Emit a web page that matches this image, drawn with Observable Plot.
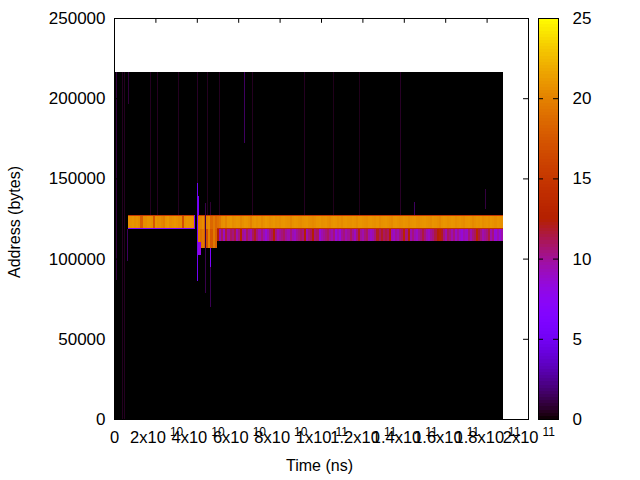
<!DOCTYPE html>
<html>
<head>
<meta charset="utf-8">
<style>
html,body{margin:0;padding:0;background:#fff}
#wrap{position:relative;width:640px;height:480px;overflow:hidden}
#wrap svg{position:absolute;left:0;top:0}
</style>
<script src="https://cdn.jsdelivr.net/npm/d3@7"></script>
<script src="https://cdn.jsdelivr.net/npm/@observablehq/plot@0.6"></script>
</head>
<body>
<div id="wrap"></div>
<script>
// --- Data (time in ns, address in bytes, value = colour level) ---
const GIGA = 1e9;
const dataEnd = 187.9e9, dataTop = 216300;

const xTickValues = [0,2e10,4e10,6e10,8e10,1e11,1.2e11,1.4e11,1.6e11,1.8e11,2e11];
const xTickBases  = ["0","2x10","4x10","6x10","8x10","1x10","1.2x10","1.4x10","1.6x10","1.8x10","2x10"];
const xTickExps   = ["","10","10","10","10","11","11","11","11","11","11"];
const yTickValues = [0,50000,100000,150000,200000,250000];
const cbTickValues = [0,5,10,15,20,25];

// thin vertical streaks: time (10^9 ns), low address, high address, value
const streakTimes = [1.0,4.1,4.8,6.8,6.5,17.6,20.8,30.9,40.1,40.1,40.5,44.7,44,46.6,46.6,46.6,50,50,50.7,63,66.9,91.9,105.8,118.4,138.3,144.9,179.2];
const streakLows  = [86650,0,0,196400,98500,127180,127180,127180,147100,86000,127180,127180,78500,127180,94800,69800,204500,127180,127180,172100,127180,127180,127180,127180,127180,127180,130900];
const streakHighs = [216300,216300,216300,216300,118450,216300,216300,216300,216300,147100,139000,216300,134700,135300,106600,94800,216300,204500,216300,216300,216300,216300,216300,216300,216300,135300,143400];
const streakVals  = [1,0.5,0.5,0.9,1.5,0.5,0.5,0.5,0.6,5,5.5,0.5,1.2,0.8,6,1.3,3,0.5,0.5,1.5,0.5,0.5,0.4,0.4,0.6,1.5,1];

// early band (columns of 10^9 ns from 6.8e9)
const earlyBand = [20.5,20.7,20.9,20.6,20.8,20.5,18,20.5,20.5,20.8,20.8,20.6,17.5,20.8,20.5,20.6,20.2,19.8,20.8,21,20.5,20.7,20.9,20.7,20.4,20.6,17,20.6,20.8,20.7,20.7,20.5];

// transition region (columns from 40.6e9)
const transUpper = [19.5,20,20.5,18,20,20.5,18.5,19.5,18.5];
const transLower = [19.5,19,19.5,18,17,20,17.5,19.5,18];

// main upper band (columns from 49.8e9)
const upperBand = [
19,19.5,20.5,20.7,20,20.8,21,20.5,20.7,20.9,20.8,20.2,20.6,20.9,20.8,20.5,19.8,20.7,20.9,20.6,20.8,20.3,20.7,21,20.8,20.5,20.7,20.9,20.6,20.7,20.5,20.8,20.9,20.7,20.6,20.2,20.7,20.9,20.8,20.6,20.4,20.7,20.8,20.9,20.6,20.5,
20.3,20.5,20.8,20.9,20.6,20.7,20.8,20.5,20.3,20.7,20.9,20.8,20.5,20.7,20.4,20.8,20.9,20.7,20.6,20.8,20.7,20.4,20.8,20.9,20.7,20.6,20.5,20.8,20.9,20.7,20.6,20.8,20.4,20.7,20.8,20.9,20.7,20.5,20.3,20.8,20.9,20.7,20.5,20.6,20.8,20.7,
20.4,20.7,20.8,20.9,20.6,20.5,20.7,20.8,20.9,20.7,20.6,20.4,20.8,20.7,20.5,20.2,20.7,20.9,20.8,20.6,20.7,20.9,20.8,20.5,20.7,20.8,20.6,20.4,20.8,20.9,20.7,20.3,20.6,20.8,20.7,20.9,20.5,20.7,20.8,20.6,20.9,20.7,20.5,20.8,20.7,20.6];

// main lower band (columns from 49.8e9)
const lowerBand = [
12.5,9.5,11,9,11.5,10,11,10.5,11.5,9.5,10.5,12.5,10,9.5,11,10,9.5,11,12,10.5,9.5,10.5,9.5,8.5,9.5,10.5,11,12.5,10.5,9.5,10,10.5,11,10,9.5,10.5,9.5,9,10,10.5,11,10.5,12.5,9.5,10.5,11,
12.5,10.5,11,8.5,9.5,10,10.5,11,10,9.5,10.5,8.5,9.5,8.5,10,10.5,9.5,10,11,10,9,10.5,12,10,9.5,10.5,11,9.5,9,9.5,10.5,12,11,12,11,11.5,11,12.5,9.5,9,10,9.5,10.5,11,13,10.5,
12.5,9.5,10.5,9.5,9,10,10.5,11.5,10.5,9.5,9,10,10.5,11.5,12.5,13,12,10.5,9.5,11,10.5,9.5,10.5,9,10,9,8.5,9.5,9,10.5,9.5,10.5,11,13,11.5,10.5,9.5,10,10.5,11.5,9.5,10.5,8.5,9.5,8.5,9.5];

// --- Tables built from the arrays ---
const columns = (vals, start, low, high) => vals.map((v,i) => ({
  x1: start + i*GIGA, x2: start + (i+1)*GIGA, y1: low, y2: high, v}));

const streaks = streakTimes.map((t,i) => ({
  x1: t*GIGA, x2: t*GIGA + 0.48e9, y1: streakLows[i], y2: streakHighs[i], v: streakVals[i]}));

const cells = [
  {x1:0,x2:dataEnd,y1:0,y2:dataTop,v:0},
  ...columns(earlyBand,6.8e9,118450,127180),
  {x1:6.76e9,x2:39.2e9,y1:126560,y2:127180,v:15},
  {x1:6.76e9,x2:39.2e9,y1:118450,y2:119300,v:6.8},
  {x1:38.7e9,x2:39.2e9,y1:118450,y2:127180,v:7},
  ...columns(transUpper,40.6e9,118450,127180),
  ...columns(transLower,40.6e9,106600,118450),
  {x1:40.6e9,x2:42.2e9,y1:102240,y2:110200,v:8},
  ...columns(upperBand,49.8e9,118450,127180),
  ...columns(lowerBand,49.8e9,110970,118450),
  {x1:40.6e9,x2:dataEnd,y1:126560,y2:127180,v:15},
  {x1:49.8e9,x2:dataEnd,y1:118450,y2:119000,v:14},
  ...streaks
];

const xTicks = xTickValues.map((x,i) => ({x, base:xTickBases[i], exp:xTickExps[i]}));

// --- gnuplot default pm3d palette (7,5,15) ---
const palette = t => {
  const r = Math.sqrt(t), g = t*t*t, b = Math.max(0, Math.sin(2*Math.PI*t));
  return `rgb(${Math.round(r*255)},${Math.round(g*255)},${Math.round(b*255)})`;
};
const colorScale = {type:"linear", domain:[0,25], interpolate:palette, clamp:true};

const fs = 16, numFs = 17, xFs = 16.5;
const svgStyle = {background:"none",fontFamily:"'Liberation Sans',Arial,sans-serif"};
const main = Plot.plot({
  width:640, height:480,
  marginLeft:114, marginRight:112, marginTop:18, marginBottom:61,
  style:svgStyle,
  x:{domain:[0,2e11],axis:null},
  y:{domain:[0,250000],axis:null},
  color:colorScale,
  marks:[
    Plot.rect(cells,{x1:"x1",x2:"x2",y1:"y1",y2:"y2",fill:"v",shapeRendering:"crispEdges"}),
    Plot.frame({stroke:"black",strokeWidth:1}),
    Plot.ruleY(yTickValues,{x1:0,x2:2.4e9,stroke:"black"}),
    Plot.ruleY(yTickValues,{x1:2e11-2.4e9,x2:2e11,stroke:"black"}),
    Plot.ruleX(xTickValues,{y1:0,y2:3000,stroke:"black"}),
    Plot.ruleX(xTickValues,{y1:247000,y2:250000,stroke:"black"}),
    Plot.text(yTickValues,{x:0,y:d=>d,text:d=>String(d),textAnchor:"end",dx:-9,fontSize:numFs,fill:"black"}),
    Plot.text(xTicks.filter(d=>d.x===0),{x:"x",y:0,text:"base",dy:18,fontSize:xFs,fill:"black"}),
    Plot.text(xTicks.filter(d=>d.x>0 && d.base.length===4),{x:"x",y:0,text:"base",textAnchor:"end",dx:10,dy:18,fontSize:xFs,fill:"black"}),
    Plot.text(xTicks.filter(d=>d.base.length===6),{x:"x",y:0,text:"base",textAnchor:"end",dx:17,dy:18,fontSize:xFs,fill:"black"}),
    Plot.text(xTicks.filter(d=>d.base.length===4),{x:"x",y:0,text:"exp",textAnchor:"start",dx:14,dy:13,fontSize:12,fill:"black"}),
    Plot.text(xTicks.filter(d=>d.base.length===6),{x:"x",y:0,text:"exp",textAnchor:"start",dx:21,dy:13,fontSize:12,fill:"black"}),
    Plot.text(["Time (ns)"],{frameAnchor:"bottom",dx:-2,dy:51,fontSize:fs,fill:"black"}),
    Plot.text(["Address (bytes)"],{frameAnchor:"left",textAnchor:"middle",rotate:-90,dx:-100,dy:3,fontSize:fs,fill:"black"})
  ]
});

// colour bar, same frame geometry, overlaid
const cbLevels = d3.range(0,128).map(i => ({y1:i*25/128, y2:(i+1)*25/128, v:(i+0.5)*25/128}));
const bar = Plot.plot({
  width:640, height:480,
  marginLeft:538, marginRight:82, marginTop:18, marginBottom:61,
  style:svgStyle,
  x:{domain:[0,1],axis:null},
  y:{domain:[0,25],axis:null},
  color:colorScale,
  marks:[
    Plot.rect(cbLevels,{x1:0,x2:1,y1:"y1",y2:"y2",fill:"v",shapeRendering:"crispEdges"}),
    Plot.frame({stroke:"black",strokeWidth:1}),
    Plot.ruleY(cbTickValues,{x1:0,x2:0.25,stroke:"black"}),
    Plot.ruleY(cbTickValues,{x1:0.75,x2:1,stroke:"black"}),
    Plot.text(cbTickValues,{x:1,y:d=>d,text:d=>String(d),textAnchor:"start",dx:14,fontSize:numFs,fill:"black"})
  ]
});

const wrap = document.getElementById("wrap");
wrap.append(main, bar);
</script>
</body>
</html>
